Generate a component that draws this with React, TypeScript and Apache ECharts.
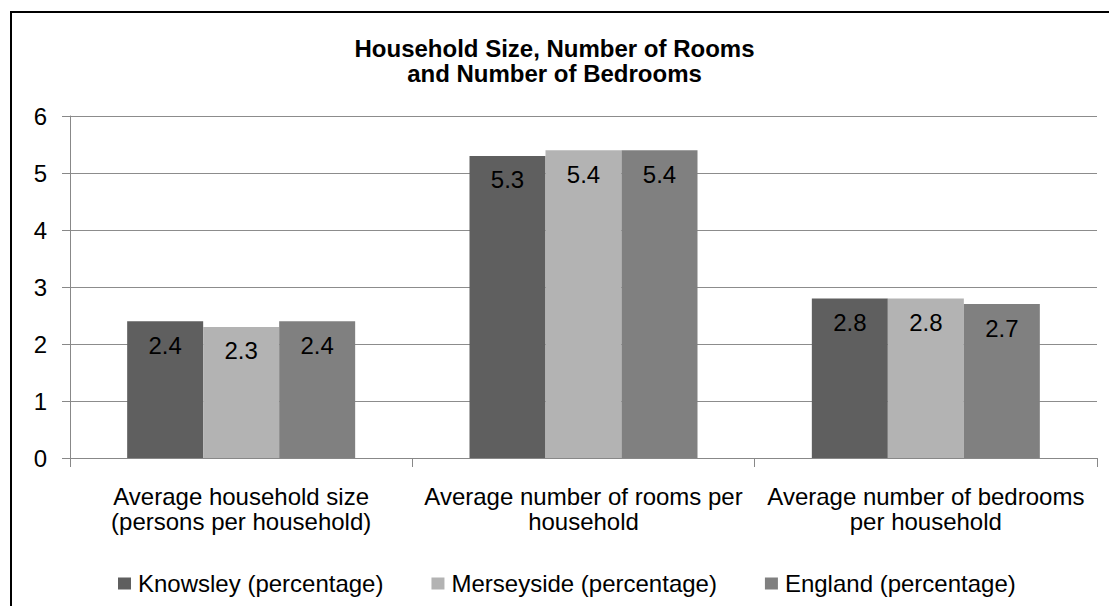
import React, { useEffect, useRef } from "react";
import * as echarts from "echarts";

const categories = [
  "Average household size\n(persons per household)",
  "Average number of rooms per\nhousehold",
  "Average number of bedrooms\nper household",
];
const knowsley = [2.4, 5.3, 2.8];
const merseyside = [2.3, 5.4, 2.8];
const england = [2.4, 5.4, 2.7];
const seriesNames = ["Knowsley (percentage)", "Merseyside (percentage)", "England (percentage)"];
const seriesColors = ["#5f5f5f", "#b3b3b3", "#808080"];
const titleText = "Household Size, Number of Rooms\nand Number of Bedrooms";

const FONT = "'Liberation Sans', Arial, sans-serif";

export default function App() {
  const ref = useRef<HTMLDivElement>(null);
  useEffect(() => {
    document.body.style.margin = "0";
    const chart = echarts.init(ref.current!, null, { renderer: "svg" });
    const values = [knowsley, merseyside, england];
    chart.setOption({
      animation: false,
      backgroundColor: "#ffffff",
      textStyle: { fontFamily: FONT },
      title: {
        text: titleText,
        left: "center",
        top: 31,
        textStyle: { fontFamily: FONT, fontSize: 24, fontWeight: "bold", color: "#000", lineHeight: 25 },
      },
      graphic: [
        {
          type: "rect",
          shape: { x: 11, y: 12, width: 1120, height: 620 },
          style: { fill: "none", stroke: "#000", lineWidth: 2 },
          silent: true,
        },
      ],
      legend: {
        left: 113,
        top: 566,
        itemWidth: 13,
        itemHeight: 12,
        itemGap: 48,
        icon: "rect",
        textStyle: { fontFamily: FONT, fontSize: 24, lineHeight: 25, color: "#000", padding: [0, 0, 0, 2] },
        data: seriesNames,
      },
      grid: { left: 70, right: 12, top: 116, bottom: 148, containLabel: false },
      xAxis: {
        type: "category",
        data: categories,
        axisLine: { lineStyle: { color: "#888", width: 1 } },
        axisTick: { show: true, length: 9, lineStyle: { color: "#888" } },
        axisLabel: {
          interval: 0,
          margin: 26,
          fontFamily: FONT,
          fontSize: 24,
          lineHeight: 25,
          color: "#000",
        },
      },
      yAxis: {
        type: "value",
        min: 0,
        max: 6,
        interval: 1,
        axisLine: { show: true, lineStyle: { color: "#888", width: 1 } },
        axisTick: { show: true, length: 8, lineStyle: { color: "#888" } },
        splitLine: { lineStyle: { color: "#8c8c8c", width: 1 } },
        axisLabel: { margin: 23, fontFamily: FONT, fontSize: 24, color: "#000" },
      },
      series: seriesNames.map((name, i) => ({
        name,
        type: "bar",
        data: values[i],
        barWidth: 76,
        barGap: "0%",
        itemStyle: { color: seriesColors[i] },
        label: {
          show: true,
          position: "insideTop",
          distance: 12,
          fontFamily: FONT,
          fontSize: 24,
          color: "#000",
        },
      })),
    });
    return () => chart.dispose();
  }, []);
  return <div ref={ref} style={{ width: 1109, height: 606 }} />;
}
